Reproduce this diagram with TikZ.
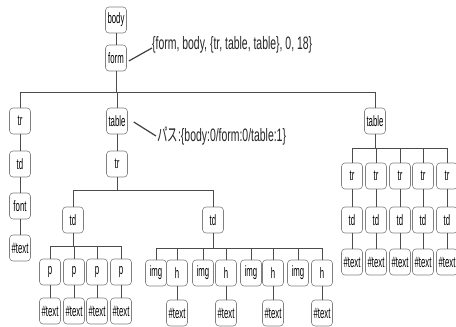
\documentclass[tikz,border=0pt]{standalone}
\usepackage{fontspec}
\newfontfamily\nodefont[FakeStretch=0.52]{Liberation Sans}
\newfontfamily\labfont[FakeStretch=0.58]{Liberation Sans}
\newfontfamily\jpfont[FakeStretch=0.58]{Noto Sans CJK JP}
\begin{document}
\begin{tikzpicture}[x=1pt,y=-1pt,
  dom/.style={draw=black!50, line width=0.6pt, rounded corners=3.5pt, fill=white,
    minimum width=21pt, minimum height=26pt, inner sep=1pt,
    font=\nodefont\fontsize{15}{16}\selectfont},
  edge/.style={draw=black!70, line width=0.6pt},
  note/.style={anchor=west, inner sep=0pt, text=black!85, font=\labfont\fontsize{18}{20}\selectfont},
  pointer/.style={draw=black!75, line width=1.2pt}]
\useasboundingbox (0,0) rectangle (456,327);

% bar heights of the tree levels
\coordinate (b1) at (0,92);
\coordinate (b2) at (0,190);
\coordinate (b3) at (0,246);
\coordinate (b4) at (0,248);
\coordinate (b5) at (0,148);

% top of the document
\node[dom] (body) at (116,20) {body};
\node[dom] (form) at (116,58) {form};
\draw[edge] (body) -- (form);

% first level below form
\node[dom] (trA)  at (20,121)  {tr};
\node[dom] (tabA) at (117,121) {table};
\node[dom] (tabB) at (375,121) {table};
\foreach \c in {trA,tabA,tabB}
  \draw[edge] (form.south) -- (form.south |- b1) -| (\c.north);

% left column
\node[dom] (tdA)   at (20,164) {td};
\node[dom] (fontA) at (20,206) {font};
\node[dom] (txA)   at (20,248) {\#text};
\draw[edge] (trA) -- (tdA) (tdA) -- (fontA) (fontA) -- (txA);

% middle table
\node[dom] (trB) at (117,164) {tr};
\draw[edge] (tabA) -- (trB);
\node[dom] (tdB) at (73,220)  {td};
\node[dom] (tdC) at (213,220) {td};
\foreach \c in {tdB,tdC}
  \draw[edge] (trB.south) -- (trB.south |- b2) -| (\c.north);

% paragraphs
\foreach \x [count=\i] in {50,74,97,121} {
  \node[dom] (p\i) at (\x,272) {p};
  \node[dom] (pt\i) at (\x,311) {\#text};
  \draw[edge] (tdB.south) -- (tdB.south |- b3) -| (p\i.north);
  \draw[edge] (p\i) -- (pt\i);
}

% images and headings
\foreach \xi/\xh [count=\i] in {156/177,203/226,251/273,298/322} {
  \node[dom] (im\i) at (\xi,273) {img};
  \node[dom] (h\i)  at (\xh,273) {h};
  \node[dom] (ht\i) at (\xh,313) {\#text};
  \draw[edge] (tdC.south) -- (tdC.south |- b4) -| (im\i.north);
  \draw[edge] (tdC.south) -- (tdC.south |- b4) -| (h\i.north);
  \draw[edge] (h\i) -- (ht\i);
}

% right table
\foreach \x [count=\i] in {352,376,400,423,447} {
  \node[dom] (rtr\i) at (\x,176) {tr};
  \node[dom] (rtd\i) at (\x,220) {td};
  \node[dom] (rtx\i) at (\x,262) {\#text};
  \draw[edge] (tabB.south) -- (tabB.south |- b5) -| (rtr\i.north);
  \draw[edge] (rtr\i) -- (rtd\i) (rtd\i) -- (rtx\i);
}

% annotations
\node[note] (lab1) at (152,45) {\{form, body, \{tr, table, table\}, 0, 18\}};
\draw[pointer] ([xshift=2pt,yshift=-3pt]form.east) -- ([yshift=-3pt]lab1.west);
\node[note] (lab2) at (157,136) {{\jpfont パス}:\{body:0/form:0/table:1\}};
\draw[pointer] ([xshift=6pt,yshift=-1pt]tabA.east) -- ([xshift=-1pt]lab2.west);
\end{tikzpicture}
\end{document}
